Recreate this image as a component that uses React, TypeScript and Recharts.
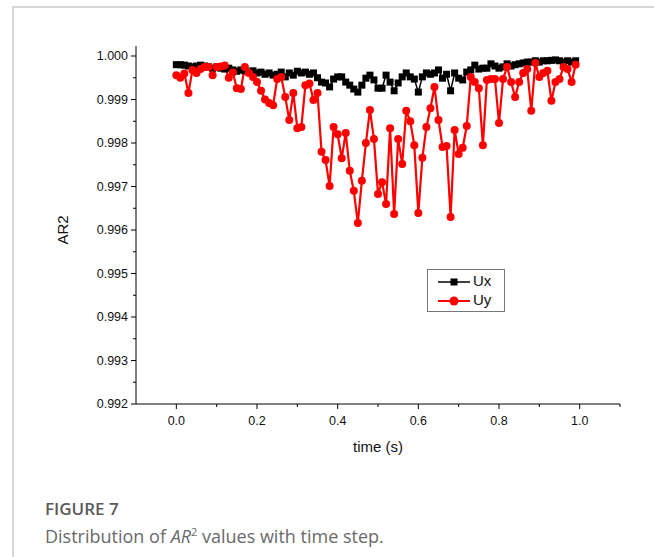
import { LineChart, Line, XAxis, YAxis } from "recharts";

// time steps (s)
const time = [
  0, 0.01, 0.02, 0.03, 0.04, 0.05, 0.06, 0.07, 0.08, 0.09,
  0.1, 0.11, 0.12, 0.13, 0.14, 0.15, 0.16, 0.17, 0.18, 0.19,
  0.2, 0.21, 0.22, 0.23, 0.24, 0.25, 0.26, 0.27, 0.28, 0.29,
  0.3, 0.31, 0.32, 0.33, 0.34, 0.35, 0.36, 0.37, 0.38, 0.39,
  0.4, 0.41, 0.42, 0.43, 0.44, 0.45, 0.46, 0.47, 0.48, 0.49,
  0.5, 0.51, 0.52, 0.53, 0.54, 0.55, 0.56, 0.57, 0.58, 0.59,
  0.6, 0.61, 0.62, 0.63, 0.64, 0.65, 0.66, 0.67, 0.68, 0.69,
  0.7, 0.71, 0.72, 0.73, 0.74, 0.75, 0.76, 0.77, 0.78, 0.79,
  0.8, 0.81, 0.82, 0.83, 0.84, 0.85, 0.86, 0.87, 0.88, 0.89,
  0.9, 0.91, 0.92, 0.93, 0.94, 0.95, 0.96, 0.97, 0.98, 0.99,
];

const ux = [
  0.9998, 0.9998, 0.99979, 0.99977, 0.99975, 0.99977, 0.99979, 0.99977, 0.99975, 0.99972,
  0.99975, 0.99972, 0.9997, 0.99972, 0.99968, 0.99965, 0.99968, 0.99966, 0.99963, 0.99966,
  0.99961, 0.99963, 0.99958, 0.99961, 0.99956, 0.99958, 0.99963, 0.99952, 0.99961, 0.99956,
  0.99965, 0.99961, 0.99963, 0.99958, 0.99961, 0.9995, 0.9994, 0.99938, 0.99929, 0.99947,
  0.99952, 0.99952, 0.9994, 0.99933, 0.99924, 0.99917, 0.99933, 0.99949, 0.99956, 0.99945,
  0.99926, 0.99926, 0.99956, 0.9994, 0.9992, 0.99938, 0.99952, 0.99961, 0.99952, 0.99947,
  0.99917, 0.99952, 0.99961, 0.99958, 0.99961, 0.99968, 0.99949, 0.99958, 0.9992, 0.99961,
  0.99949, 0.99945, 0.99963, 0.99968, 0.99979, 0.9997, 0.99972, 0.99972, 0.99982, 0.99977,
  0.99972, 0.99975, 0.99982, 0.99977, 0.9998, 0.99982, 0.99984, 0.99986, 0.99986, 0.99989,
  0.99986, 0.99989, 0.99989, 0.9999, 0.99991, 0.99989, 0.99986, 0.99989, 0.99986, 0.99989,
];

const uy = [
  0.99956, 0.9995, 0.9996, 0.99915, 0.99968, 0.99961, 0.9997, 0.99975, 0.99975, 0.99956,
  0.99975, 0.99976, 0.99978, 0.9995, 0.99962, 0.99926, 0.99924, 0.99975, 0.99961, 0.99952,
  0.9994, 0.9992, 0.999, 0.99892, 0.99887, 0.99947, 0.99952, 0.99906, 0.99853, 0.99915,
  0.99834, 0.99837, 0.99933, 0.99937, 0.99899, 0.99915, 0.9978, 0.99761, 0.99701, 0.99837,
  0.9982, 0.99765, 0.99823, 0.99736, 0.9969, 0.99616, 0.99713, 0.998, 0.99876, 0.99809,
  0.99683, 0.9971, 0.9966, 0.99834, 0.99637, 0.99809, 0.99752, 0.99874, 0.9985, 0.99795,
  0.99639, 0.99766, 0.99837, 0.9988, 0.99929, 0.99853, 0.99791, 0.99793, 0.9963, 0.9983,
  0.99775, 0.99789, 0.99839, 0.99952, 0.9994, 0.99926, 0.99795, 0.99945, 0.99947, 0.99947,
  0.99846, 0.99947, 0.99975, 0.9994, 0.99906, 0.9994, 0.99961, 0.9997, 0.99874, 0.99984,
  0.99952, 0.99961, 0.99966, 0.99897, 0.9994, 0.99947, 0.99975, 0.9997, 0.9994, 0.9998,
];

const xTicks = [0, 0.1, 0.2, 0.3, 0.4, 0.5, 0.6, 0.7, 0.8, 0.9, 1.0, 1.1];
const yTicks = [
  0.992, 0.9925, 0.993, 0.9935, 0.994, 0.9945, 0.995, 0.9955, 0.996, 0.9965,
  0.997, 0.9975, 0.998, 0.9985, 0.999, 0.9995, 1.0,
];

const data = time.map((t, i) => ({ t, ux: ux[i], uy: uy[i] }));

const axisFont = "'Liberation Sans', Arial, sans-serif";
const captionFont = "'Open Sans', 'Noto Sans', sans-serif";

const XTick = (props: any) => {
  const { x, y, payload } = props;
  const v = payload.value as number;
  const major = Math.round(v * 10) % 2 === 0;
  return (
    <g>
      <line x1={x} y1={y} x2={x} y2={y + (major ? 5 : 3)} stroke="#000" strokeWidth={1} />
      {major && (
        <text x={x} y={y + 21} textAnchor="middle" fontSize={12.5} fill="#111" fontFamily={axisFont}>
          {v.toFixed(1)}
        </text>
      )}
    </g>
  );
};

const YTick = (props: any) => {
  const { x, y, payload } = props;
  const v = payload.value as number;
  const major = Math.abs(Math.round(v * 1000) - v * 1000) < 1e-6;
  return (
    <g>
      <line x1={x} y1={y} x2={x - (major ? 5 : 3)} y2={y} stroke="#000" strokeWidth={1} />
      {major && (
        <text x={x - 8} y={y + 4} textAnchor="end" fontSize={12.5} fill="#111" fontFamily={axisFont}>
          {v.toFixed(3)}
        </text>
      )}
    </g>
  );
};

const SquareDot = (props: any) => {
  const { cx, cy, index } = props;
  return <rect key={"ux" + index} x={cx - 3.5} y={cy - 3.5} width={7} height={7} fill="#000" />;
};

const CircleDot = (props: any) => {
  const { cx, cy, index } = props;
  return <circle key={"uy" + index} cx={cx} cy={cy} r={4} fill="#ff0000" />;
};

export default function App() {
  return (
    <div
      style={{
        position: "absolute",
        left: 0,
        top: 0,
        width: 654,
        height: 557,
        background: "#fff",
        overflow: "hidden",
      }}
    >
      {/* page frame */}
      <div style={{ position: "absolute", left: 12, top: 6, width: 700, height: 600, borderLeft: "2px solid #d6d6d6", borderTop: "2px solid #d6d6d6" }} />

      <div style={{ position: "absolute", left: 0, top: 0 }}>
        <LineChart
          width={654}
          height={460}
          data={data}
          margin={{ top: 46, right: 34, left: 76, bottom: 26 }}
        >
          <XAxis
            type="number"
            dataKey="t"
            domain={[-0.1, 1.1]}
            ticks={xTicks}
            interval={0}
            tickLine={false}
            tickSize={0}
            tickMargin={0}
            tick={XTick}
            height={30}
            stroke="#000"
            allowDataOverflow
          />
          <YAxis
            type="number"
            domain={[0.992, 1.00023]}
            ticks={yTicks}
            interval={0}
            tickLine={false}
            tickSize={0}
            tickMargin={0}
            tick={YTick}
            width={60}
            stroke="#000"
            allowDataOverflow
          />
          <Line
            dataKey="ux"
            stroke="#000"
            strokeWidth={1.5}
            dot={SquareDot}
            isAnimationActive={false}
          />
          <Line
            dataKey="uy"
            stroke="#ff0000"
            strokeWidth={2.2}
            dot={CircleDot}
            isAnimationActive={false}
          />
        </LineChart>
      </div>

      {/* axis titles */}
      <div
        style={{
          position: "absolute",
          left: 62,
          top: 230,
          transform: "translate(-50%, -50%) rotate(-90deg)",
          fontFamily: axisFont,
          fontSize: 15,
          color: "#111",
          whiteSpace: "nowrap",
        }}
      >
        AR2
      </div>
      <div
        style={{
          position: "absolute",
          left: 378,
          top: 446,
          transform: "translate(-50%, -50%)",
          fontFamily: axisFont,
          fontSize: 15,
          color: "#111",
          whiteSpace: "nowrap",
        }}
      >
        time (s)
      </div>

      {/* legend */}
      <div
        style={{
          position: "absolute",
          left: 427,
          top: 269,
          width: 78,
          height: 43,
          border: "1px solid #777",
          boxSizing: "border-box",
          fontFamily: axisFont,
          fontSize: 15,
          color: "#111",
        }}
      >
        <svg width={36} height={40} style={{ position: "absolute", left: 8, top: 0 }}>
          <line x1={2} y1={12} x2={34} y2={12} stroke="#000" strokeWidth={1.5} />
          <rect x={14.5} y={8.5} width={7} height={7} fill="#000" />
          <line x1={2} y1={31} x2={34} y2={31} stroke="#ff0000" strokeWidth={2} />
          <circle cx={18} cy={31} r={4.5} fill="#ff0000" />
        </svg>
        <div style={{ position: "absolute", left: 45, top: 2 }}>Ux</div>
        <div style={{ position: "absolute", left: 45, top: 21 }}>Uy</div>
      </div>

      {/* caption */}
      <div
        style={{
          position: "absolute",
          left: 45,
          top: 497,
          fontFamily: captionFont,
          fontSize: 17,
          fontWeight: 600,
          color: "#5a5a5a",
        }}
      >
        FIGURE 7
      </div>
      <div
        style={{
          position: "absolute",
          left: 45,
          top: 524,
          fontFamily: captionFont,
          fontSize: 18,
          color: "#6a6a6a",
          whiteSpace: "nowrap",
        }}
      >
        Distribution of <i>AR</i>
        <sup style={{ fontSize: 11 }}>2</sup> values with time step.
      </div>
    </div>
  );
}
